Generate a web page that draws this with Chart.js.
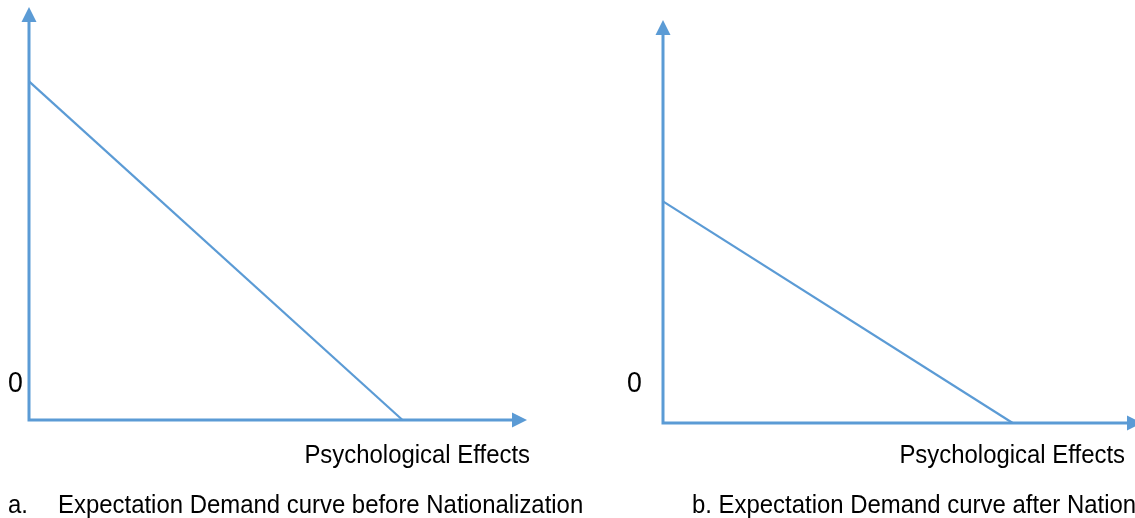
<!DOCTYPE html>
<html>
<head>
<meta charset="utf-8">
<script src="https://cdn.jsdelivr.net/npm/chart.js@4/dist/chart.umd.min.js"></script>
<style>
  html, body { margin: 0; padding: 0; background: #fff; overflow: hidden; }
  body { width: 1135px; height: 518px; position: relative; }
  canvas { position: absolute; top: 0; }
  #chartBefore { left: 0; }
  #chartAfter { left: 600px; }
</style>
</head>
<body>
<canvas id="chartBefore" width="680" height="518"></canvas>
<canvas id="chartAfter" width="560" height="518"></canvas>
<script>
// demand curves (axis runs 0..10 up to the arrow tips)
const axisMax = 10;
const beforeX = [0, 7.5];
const beforeY = [8.2, 0];
const afterX = [0, 7.3];
const afterY = [5.5, 0];

const xAxisLabel = 'Psychological Effects';
const originLabel = '0';
const captionMarks = ['a.', ''];
const captionTexts = ['Expectation Demand curve before Nationalization', 'b. Expectation Demand curve after Nationalization'];

const blue = '#5B9BD5';
const fontFamily = "'Liberation Sans Narrow', 'Arial Narrow', 'Liberation Sans', Arial, sans-serif";
const squeeze = 0.92; // the original font is a little narrower than Liberation Sans

function toPoints(xs, ys) {
    return xs.map((v, i) => ({ x: v, y: ys[i] }));
}

function arrowHead(ctx, tipX, tipY, dir) {
    const len = 15, half = 7.5;
    ctx.beginPath();
    if (dir === 'up') {
        ctx.moveTo(tipX, tipY);
        ctx.lineTo(tipX - half, tipY + len);
        ctx.lineTo(tipX + half, tipY + len);
    } else {
        ctx.moveTo(tipX, tipY);
        ctx.lineTo(tipX - len, tipY - half);
        ctx.lineTo(tipX - len, tipY + half);
    }
    ctx.closePath();
    ctx.fill();
}

// narrow text: scale horizontally around the anchor point
function narrowText(ctx, text, x, y, align) {
    ctx.save();
    ctx.translate(x, y);
    ctx.scale(squeeze, 1);
    ctx.textAlign = align;
    ctx.fillText(text, 0, 0);
    ctx.restore();
}

// draws both axes with arrow heads, plus the labels
const axesPlugin = {
    id: 'axesPlugin',
    beforeDatasetsDraw(chart) {
        const { ctx, scales: { x, y } } = chart;
        const x0 = x.getPixelForValue(0);
        const y0 = y.getPixelForValue(0);
        const xEnd = x.getPixelForValue(axisMax);
        const yEnd = y.getPixelForValue(axisMax);
        ctx.save();
        ctx.strokeStyle = blue;
        ctx.fillStyle = blue;
        ctx.lineWidth = 3;
        ctx.beginPath();
        ctx.moveTo(x0, y0 + 1.5);
        ctx.lineTo(x0, yEnd + 14);
        ctx.moveTo(x0 - 1.5, y0);
        ctx.lineTo(xEnd - 14, y0);
        ctx.stroke();
        arrowHead(ctx, x0, yEnd, 'up');
        arrowHead(ctx, xEnd, y0, 'right');
        ctx.restore();
    },
    afterDraw(chart, args, opts) {
        const { ctx } = chart;
        ctx.save();
        ctx.fillStyle = '#000';
        ctx.textBaseline = 'alphabetic';

        ctx.font = '29px ' + fontFamily;
        narrowText(ctx, originLabel, opts.zeroX, 392, 'left');

        ctx.font = '26px ' + fontFamily;
        narrowText(ctx, xAxisLabel, opts.labelRight, 463, 'right');

        if (captionMarks[opts.idx]) {
            narrowText(ctx, captionMarks[opts.idx], opts.markX, 513, 'left');
        }
        narrowText(ctx, captionTexts[opts.idx], opts.captionX, 513, 'left');
        ctx.restore();
    }
};

function makeChart(id, xs, ys, padding, textOpts) {
    const ctx = document.getElementById(id).getContext('2d');
    return new Chart(ctx, {
        type: 'line',
        data: {
            datasets: [{
                data: toPoints(xs, ys),
                borderColor: blue,
                borderWidth: 2.2,
                pointRadius: 0,
                tension: 0,
                clip: false
            }]
        },
        options: {
            responsive: false,
            animation: false,
            layout: { padding: padding },
            plugins: {
                legend: { display: false },
                tooltip: { enabled: false },
                axesPlugin: textOpts
            },
            scales: {
                x: { type: 'linear', min: 0, max: axisMax, display: false },
                y: { type: 'linear', min: 0, max: axisMax, display: false }
            }
        },
        plugins: [axesPlugin]
    });
}

makeChart('chartBefore', beforeX, beforeY,
    { left: 29, top: 7, right: 153, bottom: 98 },
    { idx: 0, zeroX: 8, labelRight: 530, markX: 8, captionX: 58 });

makeChart('chartAfter', afterX, afterY,
    { left: 63, top: 20, right: 18, bottom: 95 },
    { idx: 1, zeroX: 27, labelRight: 525, captionX: 92 });
</script>
</body>
</html>
